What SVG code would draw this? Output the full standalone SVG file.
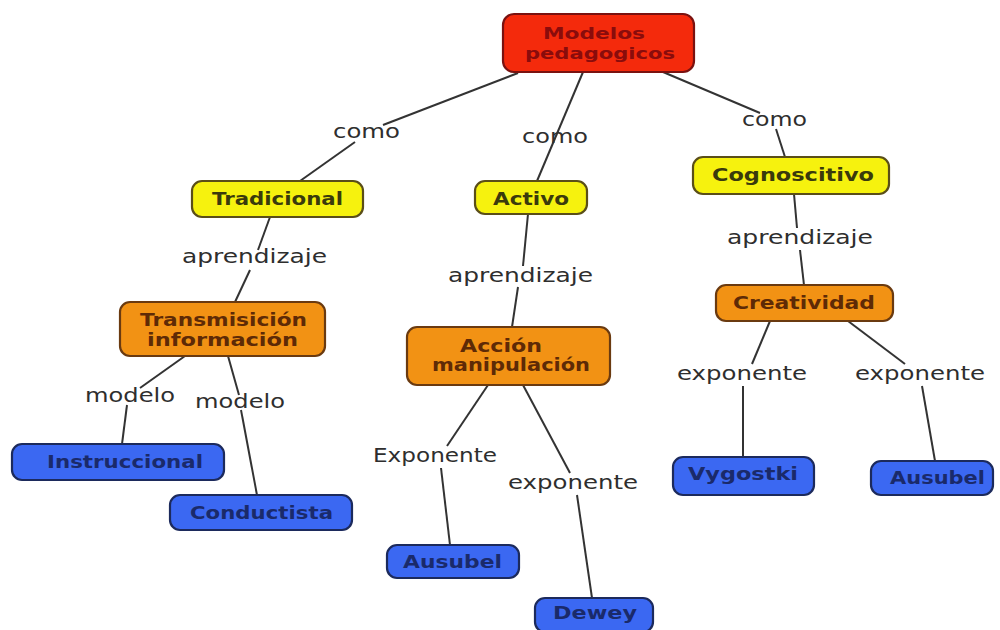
<svg xmlns="http://www.w3.org/2000/svg" width="1000" height="630" viewBox="0 0 1000 630">
<style>
.n{stroke-width:2.2}
.red{fill:#f42a0c;stroke:#7a1210}
.yel{fill:#f6f20e;stroke:#5a4e18}
.org{fill:#f29214;stroke:#6a3a10}
.blu{fill:#3b68f2;stroke:#1c2a5c}
.t{font-family:"DejaVu Sans",Verdana,sans-serif;font-size:18px;font-weight:bold}
.tr{fill:#8a0c0c;font-size:16px}
.ty{fill:#3a3a0c}
.to{fill:#5e2a06}
.tb{fill:#1a2a6a}
.l{font-family:"DejaVu Sans",Verdana,sans-serif;font-size:19px;fill:#2e2e2e}
#connectors line{stroke:#333;stroke-width:2;fill:none}
</style>
<rect width="1000" height="630" fill="#fff"/>
<g id="connectors">
<line x1="518" y1="73" x2="383" y2="125"/>
<line x1="355" y1="142" x2="300" y2="181"/>
<line x1="583" y1="72" x2="537" y2="181"/>
<line x1="663" y1="72" x2="760" y2="113"/>
<line x1="776" y1="129" x2="785" y2="157"/>
<line x1="270" y1="217" x2="258" y2="250"/>
<line x1="250" y1="270" x2="235" y2="302"/>
<line x1="528" y1="214" x2="523" y2="266"/>
<line x1="518" y1="287" x2="512" y2="327"/>
<line x1="794" y1="194" x2="797" y2="228"/>
<line x1="800" y1="250" x2="804" y2="285"/>
<line x1="185" y1="356" x2="140" y2="388"/>
<line x1="127" y1="405" x2="122" y2="444"/>
<line x1="228" y1="356" x2="239" y2="395"/>
<line x1="241" y1="410" x2="257" y2="495"/>
<line x1="488" y1="385" x2="447" y2="446"/>
<line x1="441" y1="468" x2="450" y2="545"/>
<line x1="523" y1="385" x2="570" y2="473"/>
<line x1="577" y1="495" x2="592" y2="598"/>
<line x1="770" y1="321" x2="752" y2="364"/>
<line x1="743" y1="386" x2="743" y2="457"/>
<line x1="848" y1="321" x2="905" y2="364"/>
<line x1="922" y1="386" x2="935" y2="461"/>
</g>
<g id="labels">
<text class="l" x="333" y="138" textLength="67" lengthAdjust="spacingAndGlyphs">como</text>
<text class="l" x="522" y="143" textLength="66" lengthAdjust="spacingAndGlyphs">como</text>
<text class="l" x="742" y="126" textLength="65" lengthAdjust="spacingAndGlyphs">como</text>
<text class="l" x="182" y="263" textLength="145" lengthAdjust="spacingAndGlyphs">aprendizaje</text>
<text class="l" x="448" y="282" textLength="145" lengthAdjust="spacingAndGlyphs">aprendizaje</text>
<text class="l" x="727" y="244" textLength="146" lengthAdjust="spacingAndGlyphs">aprendizaje</text>
<text class="l" x="85" y="402" textLength="90" lengthAdjust="spacingAndGlyphs">modelo</text>
<text class="l" x="195" y="408" textLength="90" lengthAdjust="spacingAndGlyphs">modelo</text>
<text class="l" x="373" y="462" textLength="124" lengthAdjust="spacingAndGlyphs">Exponente</text>
<text class="l" x="508" y="489" textLength="130" lengthAdjust="spacingAndGlyphs">exponente</text>
<text class="l" x="677" y="380" textLength="130" lengthAdjust="spacingAndGlyphs">exponente</text>
<text class="l" x="855" y="380" textLength="130" lengthAdjust="spacingAndGlyphs">exponente</text>
</g>
<g id="n-modelos">
<rect class="n red" x="503" y="14" width="191" height="58" rx="11"/>
<text class="t tr" x="543" y="39" textLength="102" lengthAdjust="spacingAndGlyphs">Modelos</text>
<text class="t tr" x="525" y="59" textLength="150" lengthAdjust="spacingAndGlyphs">pedagogicos</text>
</g>
<g id="n-tradicional">
<rect class="n yel" x="192" y="181" width="171" height="36" rx="10"/>
<text class="t ty" x="212" y="205" textLength="131" lengthAdjust="spacingAndGlyphs">Tradicional</text>
</g>
<g id="n-activo">
<rect class="n yel" x="475" y="181" width="112" height="33" rx="10"/>
<text class="t ty" x="493" y="205" textLength="76" lengthAdjust="spacingAndGlyphs">Activo</text>
</g>
<g id="n-cognoscitivo">
<rect class="n yel" x="693" y="157" width="196" height="37" rx="10"/>
<text class="t ty" x="712" y="181" textLength="162" lengthAdjust="spacingAndGlyphs">Cognoscitivo</text>
</g>
<g id="n-transmision">
<rect class="n org" x="120" y="302" width="205" height="54" rx="10"/>
<text class="t to" x="140" y="326" textLength="167" lengthAdjust="spacingAndGlyphs">Transmisición</text>
<text class="t to" x="147" y="346" textLength="151" lengthAdjust="spacingAndGlyphs">información</text>
</g>
<g id="n-accion">
<rect class="n org" x="407" y="327" width="203" height="58" rx="10"/>
<text class="t to" x="460" y="352" textLength="82" lengthAdjust="spacingAndGlyphs">Acción</text>
<text class="t to" x="432" y="371" textLength="158" lengthAdjust="spacingAndGlyphs">manipulación</text>
</g>
<g id="n-creatividad">
<rect class="n org" x="716" y="285" width="177" height="36" rx="10"/>
<text class="t to" x="733" y="309" textLength="142" lengthAdjust="spacingAndGlyphs">Creatividad</text>
</g>
<g id="n-instruccional">
<rect class="n blu" x="12" y="444" width="212" height="36" rx="10"/>
<text class="t tb" x="47" y="468" textLength="156" lengthAdjust="spacingAndGlyphs">Instruccional</text>
</g>
<g id="n-conductista">
<rect class="n blu" x="170" y="495" width="182" height="35" rx="10"/>
<text class="t tb" x="190" y="519" textLength="143" lengthAdjust="spacingAndGlyphs">Conductista</text>
</g>
<g id="n-ausubel1">
<rect class="n blu" x="387" y="545" width="132" height="33" rx="10"/>
<text class="t tb" x="403" y="568" textLength="99" lengthAdjust="spacingAndGlyphs">Ausubel</text>
</g>
<g id="n-dewey">
<rect class="n blu" x="535" y="598" width="118" height="34" rx="10"/>
<text class="t tb" x="553" y="619" textLength="84" lengthAdjust="spacingAndGlyphs">Dewey</text>
</g>
<g id="n-vygostki">
<rect class="n blu" x="673" y="457" width="141" height="38" rx="10"/>
<text class="t tb" x="688" y="480" textLength="110" lengthAdjust="spacingAndGlyphs">Vygostki</text>
</g>
<g id="n-ausubel2">
<rect class="n blu" x="871" y="461" width="122" height="34" rx="10"/>
<text class="t tb" x="890" y="484" textLength="95" lengthAdjust="spacingAndGlyphs">Ausubel</text>
</g>
</svg>
